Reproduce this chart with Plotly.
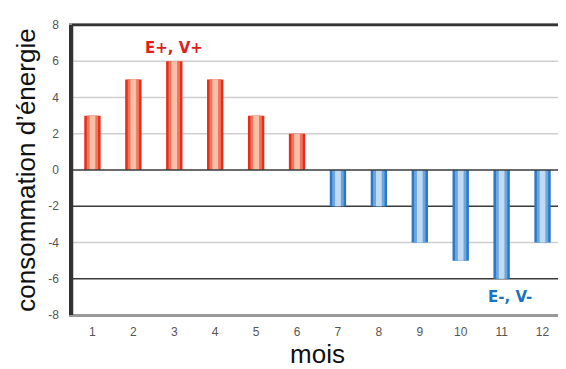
import plotly.graph_objects as go

months = [1, 2, 3, 4, 5, 6, 7, 8, 9, 10, 11, 12]
consumption = [3, 5, 6, 5, 3, 2, -2, -2, -4, -5, -6, -4]
y_ticks = [-8, -6, -4, -2, 0, 2, 4, 6, 8]
dark_grid = [0, -2, -6]
light_grid = [2, 4, 6, -4]

pos_x = [m for m, v in zip(months, consumption) if v > 0]
pos_y = [v for v in consumption if v > 0]
neg_x = [m for m, v in zip(months, consumption) if v < 0]
neg_y = [v for v in consumption if v < 0]

fig = go.Figure()
layers_red = [(0.40, "#e52d1a"), (0.28, "#f0735a"), (0.14, "#f9c0a8")]
layers_blue = [(0.40, "#2a78c8"), (0.28, "#6da6de"), (0.14, "#c2dbf3")]
for w, c in layers_red:
    fig.add_trace(go.Bar(x=pos_x, y=pos_y, width=w, marker=dict(color=c, line=dict(width=0)), showlegend=False, hoverinfo="skip"))
for w, c in layers_blue:
    fig.add_trace(go.Bar(x=neg_x, y=neg_y, width=w, marker=dict(color=c, line=dict(width=0)), showlegend=False, hoverinfo="skip"))

shapes = []
for g in light_grid:
    shapes.append(dict(type="line", xref="x", yref="y", x0=0.5, x1=12.5, y0=g, y1=g, line=dict(color="#cfcfcf", width=1.5), layer="below"))
for g in dark_grid:
    shapes.append(dict(type="line", xref="x", yref="y", x0=0.5, x1=12.5, y0=g, y1=g, line=dict(color="#3a3a3a", width=1.5), layer="above" if g == 0 else "below"))
# plot frame
shapes.append(dict(type="rect", xref="paper", yref="paper", x0=0, x1=1, y0=0, y1=1, line=dict(color="#9a9a9a", width=2), fillcolor="rgba(0,0,0,0)", layer="above"))
shapes.append(dict(type="line", xref="paper", yref="paper", x0=0, x1=1, y0=1, y1=1, line=dict(color="#333", width=2.5), layer="above"))
shapes.append(dict(type="line", xref="paper", yref="paper", x0=0, x1=0, y0=0, y1=1, line=dict(color="#333", width=2.5), layer="above"))

fig.update_layout(
    width=566, height=369,
    margin=dict(l=64, r=11, t=17, b=62),
    paper_bgcolor="white", plot_bgcolor="white",
    barmode="overlay",
    shapes=shapes,
    xaxis=dict(range=[0.5, 12.5], tickvals=months, ticktext=[str(m) for m in months],
               showgrid=False, zeroline=False, showline=True, linecolor="#999", linewidth=2, mirror=True,
               ticks="", automargin=False, ticklabelstandoff=5,
               tickfont=dict(family="Liberation Sans Narrow, Liberation Sans", size=12, color="#555"),
               title=dict(text="mois", font=dict(family="Liberation Sans", size=26, color="#111"), standoff=4)),
    yaxis=dict(range=[-8, 8], tickvals=y_ticks, ticktext=[str(t) for t in y_ticks],
               showgrid=False, zeroline=False, showline=True, linecolor="#333", linewidth=2.5,
               ticks="", automargin=False, ticklabelstandoff=8,
               tickfont=dict(family="Liberation Sans Narrow, Liberation Sans", size=12, color="#555"),
               title=dict(text="consommation d’énergie", font=dict(family="Liberation Sans", size=26, color="#111"), standoff=6)),
    annotations=[
        dict(x=3, y=6.75, xref="x", yref="y", text="<b>E+, V+</b>", showarrow=False,
             font=dict(family="DejaVu Sans", size=15, color="#e0201c")),
        dict(x=11.2, y=-7.0, xref="x", yref="y", text="<b>E-, V-</b>", showarrow=False,
             font=dict(family="DejaVu Sans", size=15, color="#1a72c0")),
    ],
)

fig.write_html("out.html")
